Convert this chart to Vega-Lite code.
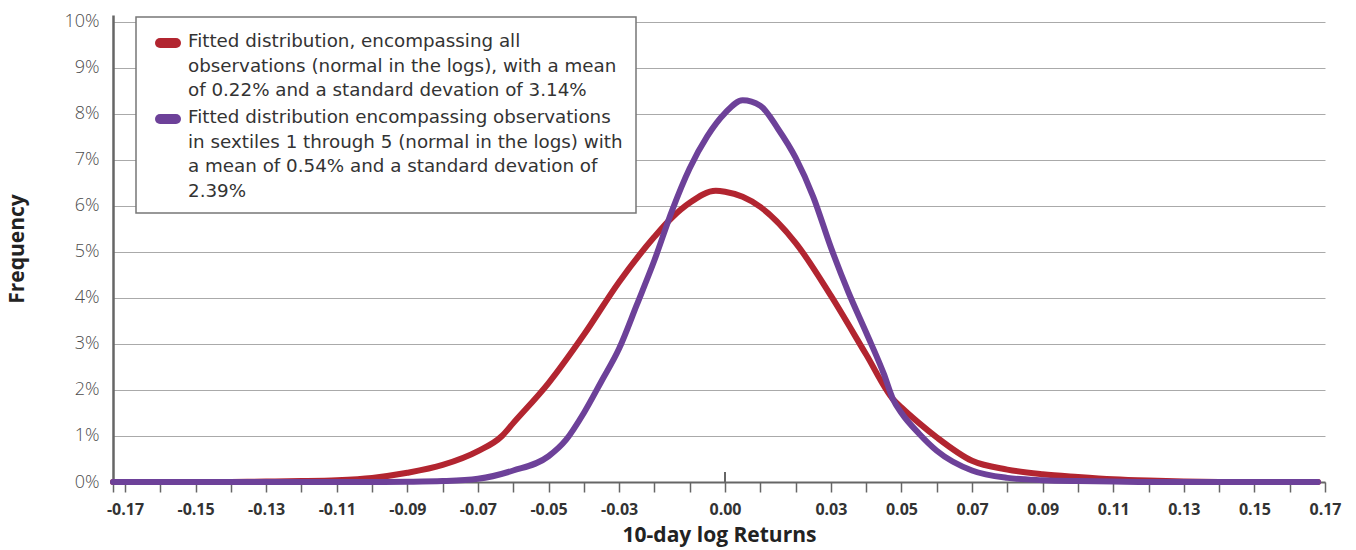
{
  "$schema": "https://vega.github.io/schema/vega-lite/v6.json",
  "autosize": {"type": "none"},
  "padding": {"left": 113, "top": 15, "right": 31, "bottom": 68},
  "width": 1212,
  "height": 467,
  "config": {
    "view": {"stroke": null},
    "font": "Open Sans"
  },
  "layer": [
    {
      "data": {
        "values": [
          {"ret": -0.1734, "freq": 0, "series": "all"},
          {"ret": -0.16, "freq": 0, "series": "all"},
          {"ret": -0.15, "freq": 0, "series": "all"},
          {"ret": -0.14, "freq": 0.00002, "series": "all"},
          {"ret": -0.13, "freq": 0.0001, "series": "all"},
          {"ret": -0.12, "freq": 0.0002, "series": "all"},
          {"ret": -0.11, "freq": 0.0004, "series": "all"},
          {"ret": -0.10, "freq": 0.0009, "series": "all"},
          {"ret": -0.09, "freq": 0.0020, "series": "all"},
          {"ret": -0.08, "freq": 0.0037, "series": "all"},
          {"ret": -0.07, "freq": 0.0067, "series": "all"},
          {"ret": -0.0632, "freq": 0.0100, "series": "all"},
          {"ret": -0.06, "freq": 0.0128, "series": "all"},
          {"ret": -0.05, "freq": 0.0215, "series": "all"},
          {"ret": -0.04, "freq": 0.0320, "series": "all"},
          {"ret": -0.03, "freq": 0.0435, "series": "all"},
          {"ret": -0.02, "freq": 0.0533, "series": "all"},
          {"ret": -0.015, "freq": 0.0575, "series": "all"},
          {"ret": -0.01, "freq": 0.0607, "series": "all"},
          {"ret": -0.0026, "freq": 0.0633, "series": "all"},
          {"ret": 0, "freq": 0.0631, "series": "all"},
          {"ret": 0.005, "freq": 0.0620, "series": "all"},
          {"ret": 0.01, "freq": 0.0598, "series": "all"},
          {"ret": 0.02, "freq": 0.0520, "series": "all"},
          {"ret": 0.03, "freq": 0.0405, "series": "all"},
          {"ret": 0.04, "freq": 0.0277, "series": "all"},
          {"ret": 0.0476, "freq": 0.0180, "series": "all"},
          {"ret": 0.05, "freq": 0.0162, "series": "all"},
          {"ret": 0.055, "freq": 0.0128, "series": "all"},
          {"ret": 0.06, "freq": 0.0097, "series": "all"},
          {"ret": 0.07, "freq": 0.0046, "series": "all"},
          {"ret": 0.08, "freq": 0.0027, "series": "all"},
          {"ret": 0.09, "freq": 0.0017, "series": "all"},
          {"ret": 0.10, "freq": 0.0011, "series": "all"},
          {"ret": 0.11, "freq": 0.0006, "series": "all"},
          {"ret": 0.12, "freq": 0.0003, "series": "all"},
          {"ret": 0.13, "freq": 0.0001, "series": "all"},
          {"ret": 0.14, "freq": 0.00002, "series": "all"},
          {"ret": 0.15, "freq": 0, "series": "all"},
          {"ret": 0.168, "freq": 0, "series": "all"},
          {"ret": -0.1734, "freq": 0, "series": "sextiles"},
          {"ret": -0.10, "freq": 0, "series": "sextiles"},
          {"ret": -0.09, "freq": 0.00005, "series": "sextiles"},
          {"ret": -0.08, "freq": 0.0002, "series": "sextiles"},
          {"ret": -0.07, "freq": 0.0007, "series": "sextiles"},
          {"ret": -0.06, "freq": 0.0025, "series": "sextiles"},
          {"ret": -0.05, "freq": 0.0056, "series": "sextiles"},
          {"ret": -0.045, "freq": 0.0092, "series": "sextiles"},
          {"ret": -0.04, "freq": 0.0150, "series": "sextiles"},
          {"ret": -0.035, "freq": 0.0219, "series": "sextiles"},
          {"ret": -0.03, "freq": 0.0290, "series": "sextiles"},
          {"ret": -0.025, "freq": 0.0385, "series": "sextiles"},
          {"ret": -0.02, "freq": 0.0482, "series": "sextiles"},
          {"ret": -0.015, "freq": 0.0590, "series": "sextiles"},
          {"ret": -0.01, "freq": 0.0682, "series": "sextiles"},
          {"ret": -0.005, "freq": 0.0752, "series": "sextiles"},
          {"ret": 0, "freq": 0.0802, "series": "sextiles"},
          {"ret": 0.005, "freq": 0.0830, "series": "sextiles"},
          {"ret": 0.01, "freq": 0.0818, "series": "sextiles"},
          {"ret": 0.015, "freq": 0.0768, "series": "sextiles"},
          {"ret": 0.02, "freq": 0.0705, "series": "sextiles"},
          {"ret": 0.025, "freq": 0.0620, "series": "sextiles"},
          {"ret": 0.03, "freq": 0.0510, "series": "sextiles"},
          {"ret": 0.035, "freq": 0.0412, "series": "sextiles"},
          {"ret": 0.04, "freq": 0.0325, "series": "sextiles"},
          {"ret": 0.045, "freq": 0.0235, "series": "sextiles"},
          {"ret": 0.0476, "freq": 0.0180, "series": "sextiles"},
          {"ret": 0.05, "freq": 0.0150, "series": "sextiles"},
          {"ret": 0.055, "freq": 0.0105, "series": "sextiles"},
          {"ret": 0.06, "freq": 0.0068, "series": "sextiles"},
          {"ret": 0.07, "freq": 0.0025, "series": "sextiles"},
          {"ret": 0.08, "freq": 0.0009, "series": "sextiles"},
          {"ret": 0.09, "freq": 0.0004, "series": "sextiles"},
          {"ret": 0.10, "freq": 0.0002, "series": "sextiles"},
          {"ret": 0.11, "freq": 0.0001, "series": "sextiles"},
          {"ret": 0.12, "freq": 0, "series": "sextiles"},
          {"ret": 0.168, "freq": 0, "series": "sextiles"}
        ]
      },
      "mark": {"type": "line", "strokeWidth": 6, "strokeCap": "round", "strokeJoin": "round", "interpolate": "monotone"},
      "encoding": {
        "x": {
          "field": "ret", "type": "quantitative",
          "scale": {"domain": [-0.1734, 0.17], "nice": false, "zero": false},
          "axis": {
            "title": "10-day log Returns",
            "titleFont": "Open Sans", "titleFontSize": 21, "titleFontWeight": "bold", "titleColor": "#222", "titlePadding": 7,
            "tickCount": 100,
            "values": [-0.1734, -0.17, -0.16, -0.15, -0.14, -0.13, -0.12, -0.11, -0.10, -0.09, -0.08, -0.07, -0.06, -0.05, -0.04, -0.03, -0.02, -0.01, 0, 0.01, 0.02, 0.03, 0.04, 0.05, 0.06, 0.07, 0.08, 0.09, 0.10, 0.11, 0.12, 0.13, 0.14, 0.15, 0.16, 0.17],
            "labelExpr": "indexof([-0.17,-0.15,-0.13,-0.11,-0.09,-0.07,-0.05,-0.03,0,0.03,0.05,0.07,0.09,0.11,0.13,0.15,0.17], datum.value) >= 0 ? (datum.value < 0 ? '-' : '') + format(abs(datum.value), '.2f') : ''",
            "labelOverlap": false, "labelFlush": false,
            "labelFont": "Open Sans", "labelFontSize": 16, "labelFontWeight": "bold", "labelColor": "#333", "labelPadding": 9,
            "grid": false,
            "domainColor": "#666", "domainWidth": 2,
            "tickColor": "#666", "tickWidth": 1.5, "tickSize": 10
          }
        },
        "y": {
          "field": "freq", "type": "quantitative",
          "scale": {"domain": [0, 0.10152], "nice": false},
          "axis": {
            "title": "Frequency",
            "titleFont": "Open Sans", "titleFontSize": 21, "titleFontWeight": "bold", "titleColor": "#222", "titlePadding": 36,
            "values": [0, 0.01, 0.02, 0.03, 0.04, 0.05, 0.06, 0.07, 0.08, 0.09, 0.1],
            "format": ".0%",
            "labelFont": "Open Sans", "labelFontSize": 18, "labelFontWeight": 300, "labelColor": "#4d4d4d", "labelPadding": 14,
            "ticks": false,
            "grid": true, "gridColor": "#aaa", "gridWidth": 1,
            "domainColor": "#666", "domainWidth": 2.5
          }
        },
        "color": {
          "field": "series", "type": "nominal",
          "scale": {"domain": ["all", "sextiles"], "range": ["#b22530", "#6d4199"]},
          "legend": {
            "orient": "none", "legendX": 23, "legendY": 2, "title": null,
            "padding": 13, "strokeColor": "#777", "fillColor": "white",
            "symbolType": "stroke", "symbolSize": 256, "symbolStrokeWidth": 10, "symbolOffset": 6,
            "labelFont": "DejaVu Sans", "labelFontSize": 18.3, "labelColor": "#333", "labelLimit": 700, "labelOffset": 7, "labelBaseline": "top", "rowPadding": -1,
            "labelExpr": "datum.value == 'all' ? ['Fitted distribution, encompassing all', 'observations (normal in the logs), with a mean', 'of 0.22% and a standard devation of 3.14%'] : ['Fitted distribution encompassing observations', 'in sextiles 1 through 5 (normal in the logs) with', 'a mean of 0.54% and a standard devation of', '2.39%']",
            "encode": {
              "symbols": {"update": {"strokeCap": {"value": "round"}}},
              "labels": {"update": {"lineHeight": {"value": 24.5}, "dy": {"value": -10}}},
              "legend": {"update": {"strokeWidth": {"value": 1.5}}}
            }
          }
        }
      }
    },
    {
      "data": {"values": [{"ret": 0, "lo": 0, "hi": 0.00217}]},
      "mark": {"type": "rule", "color": "#666", "strokeWidth": 2},
      "encoding": {
        "x": {"field": "ret", "type": "quantitative"},
        "y": {"field": "lo", "type": "quantitative"},
        "y2": {"field": "hi"}
      }
    }
  ]
}
